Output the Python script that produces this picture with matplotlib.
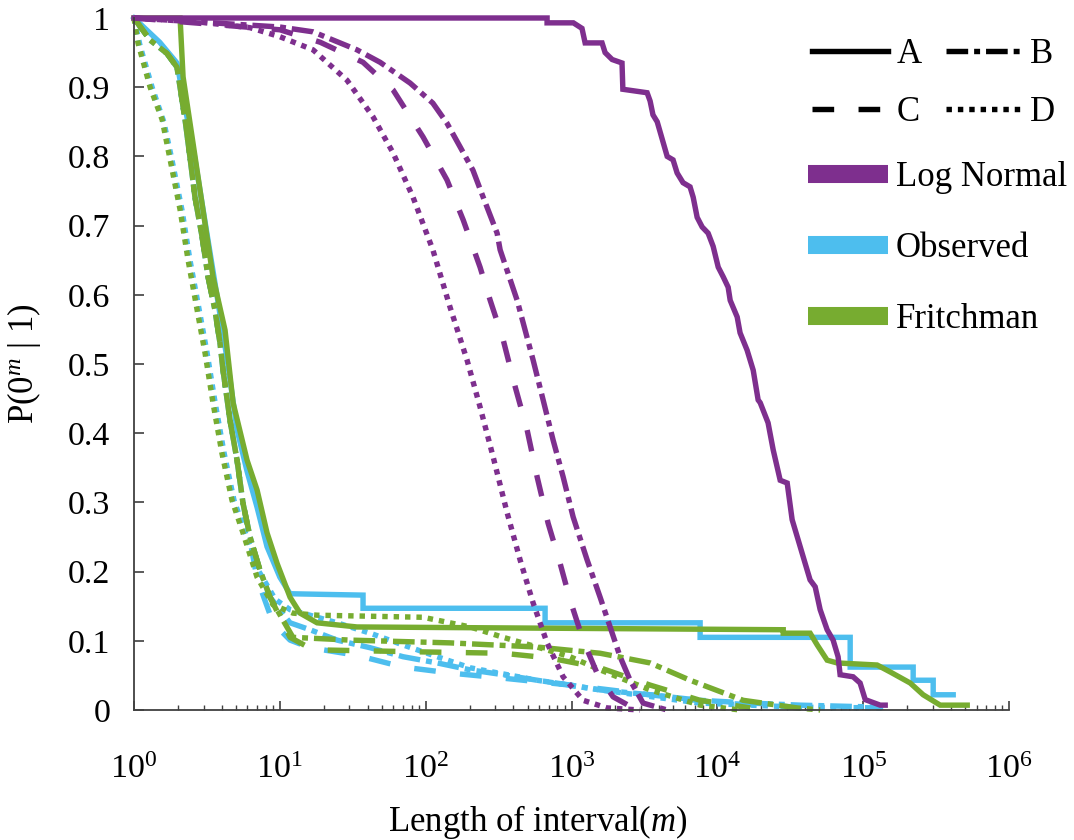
import numpy as np
import matplotlib
matplotlib.use("Agg")
import matplotlib.pyplot as plt
from matplotlib.lines import Line2D
from matplotlib.ticker import LogLocator, FixedLocator, FuncFormatter, NullFormatter, LogFormatterSciNotation

# ---------------- data ----------------
# Log Normal
LN_A_x = [1, 680, 680, 1030, 1180, 1240, 1620, 1700, 1900, 2220, 2250, 3300, 3460, 3620, 3870, 4530, 4970, 5300,
          5820, 6500, 6830, 7270, 7870, 8650, 9360, 10140, 10970, 11860, 12250, 13680, 14320, 16000, 17620, 19050,
          19680, 22280, 24150, 26980, 30130, 32580, 35810, 39990, 43250, 46880, 50700, 56620, 62230, 67300, 69500,
          85310, 95280, 103300, 130900, 141600]
LN_A_y = [1.0, 1.0, 0.993, 0.993, 0.985, 0.964, 0.964, 0.95, 0.94, 0.935, 0.897, 0.892, 0.88, 0.86, 0.85, 0.80, 0.795,
          0.776, 0.762, 0.756, 0.741, 0.712, 0.698, 0.689, 0.67, 0.64, 0.626, 0.611, 0.592, 0.568, 0.545, 0.52, 0.491,
          0.448, 0.444, 0.415, 0.376, 0.332, 0.328, 0.275, 0.246, 0.212, 0.188, 0.178, 0.145, 0.116, 0.101, 0.077,
          0.051, 0.048, 0.039, 0.015, 0.007, 0.007]
LN_B_x = [1, 10, 16.9, 33.8, 48.7, 78.2, 112, 140, 172, 211, 248, 309, 324, 424, 545, 639, 748, 876, 1026, 1279,
          1571, 1840, 2154, 2523, 3098, 4526]
LN_B_y = [1.0, 0.987, 0.980, 0.954, 0.936, 0.906, 0.877, 0.848, 0.814, 0.780, 0.741, 0.689, 0.665, 0.592, 0.506,
          0.448, 0.390, 0.337, 0.279, 0.217, 0.163, 0.120, 0.077, 0.043, 0.010, 0.0]
LN_C_x = [1, 10, 18.9, 37.2, 59.8, 96.0, 140, 181, 236, 277, 340, 411, 496, 581, 691, 835, 978, 1201, 1498, 1929, 2646]
LN_C_y = [1.0, 0.983, 0.965, 0.936, 0.896, 0.828, 0.766, 0.708, 0.640, 0.592, 0.535, 0.467, 0.405, 0.337, 0.270,
          0.212, 0.159, 0.101, 0.053, 0.019, 0.003]
LN_D_x = [1, 2.84, 6.25, 10, 16.9, 28.9, 43.6, 59.8, 81.9, 112, 147, 192, 236, 290, 362, 444, 545, 680, 876, 1201,
          1754, 2954]
LN_D_y = [1.0, 0.994, 0.986, 0.973, 0.954, 0.910, 0.857, 0.805, 0.741, 0.665, 0.582, 0.506, 0.438, 0.366, 0.285,
          0.217, 0.155, 0.097, 0.048, 0.014, 0.003, 0.0]

# Observed
OB_A_x = [1, 1.5, 1.97, 2.2, 2.6, 3.1, 3.7, 4.4, 5.09, 5.96, 6.98, 8.17, 10.0, 11.75, 37.2, 37.2, 659, 659, 7620,
          7620, 81460, 81460, 220200, 220200, 302100, 302100, 414300]
OB_A_y = [1.0, 0.965, 0.935, 0.88, 0.80, 0.70, 0.60, 0.50, 0.405, 0.345, 0.293, 0.236, 0.192, 0.168, 0.166, 0.147,
          0.147, 0.126, 0.126, 0.105, 0.105, 0.062, 0.062, 0.043, 0.043, 0.022, 0.022]
OB_B_x = [1, 1.29, 1.68, 1.97, 2.07, 2.24, 2.42, 2.62, 2.93, 3.22, 3.59, 3.89, 4.08, 4.55, 5.09, 5.59, 6.25, 7.31,
          8.57, 11.75, 16.1, 24.7, 41.6, 70.0, 120, 202, 340, 581, 978, 1571, 3460, 7620, 16790, 36980, 137200]
OB_B_y = [1.0, 0.968, 0.949, 0.929, 0.900, 0.853, 0.799, 0.741, 0.684, 0.626, 0.578, 0.530, 0.491, 0.419, 0.361,
          0.299, 0.250, 0.202, 0.163, 0.126, 0.116, 0.101, 0.090, 0.077, 0.068, 0.058, 0.051, 0.043, 0.036, 0.029,
          0.022, 0.014, 0.010, 0.007, 0.004]
OB_C_x = [1, 1.29, 1.68, 1.97, 2.07, 2.24, 2.42, 2.62, 2.93, 3.22, 3.59, 3.89, 4.08, 4.55, 5.09, 5.59, 6.25, 6.98,
          8.98, 11.75, 16.1, 33.8, 70.0, 154, 340, 978, 3460, 10450, 36980]
OB_C_y = [1.0, 0.968, 0.949, 0.929, 0.900, 0.853, 0.799, 0.741, 0.684, 0.626, 0.578, 0.530, 0.491, 0.419, 0.361,
          0.299, 0.245, 0.190, 0.126, 0.101, 0.090, 0.079, 0.062, 0.053, 0.046, 0.036, 0.022, 0.010, 0.004]
OB_D_x = [1, 1.1, 1.33, 1.6, 1.82, 2.13, 2.42, 2.8, 3.17, 3.6, 4.15, 4.85, 5.8, 7.2, 9.3, 11.75, 24.7, 41.6, 70.0,
          120, 202, 581, 1571, 7620, 36980, 141600]
OB_D_y = [1.0, 0.96, 0.90, 0.85, 0.795, 0.723, 0.65, 0.578, 0.516, 0.444, 0.371, 0.303, 0.256, 0.20, 0.16, 0.145,
          0.126, 0.111, 0.094, 0.077, 0.061, 0.043, 0.029, 0.010, 0.004, 0.003]

# Fritchman
FR_A_x = [1, 2.07, 2.17, 2.54, 2.97, 3.48, 4.21, 4.78, 5.96, 6.98, 8.17, 9.57, 11.75, 13.76, 18.0, 33.8, 28300,
          28300, 43300, 48400, 56600, 66300, 124700, 153200, 210100, 257900, 337500, 516900]
FR_A_y = [1.0, 1.0, 0.915, 0.819, 0.723, 0.626, 0.549, 0.444, 0.361, 0.318, 0.256, 0.212, 0.163, 0.140, 0.126, 0.120,
          0.116, 0.111, 0.111, 0.094, 0.072, 0.068, 0.065, 0.055, 0.039, 0.022, 0.007, 0.007]
FR_B_x = [1, 1.29, 1.68, 1.97, 2.07, 2.24, 2.42, 2.62, 2.93, 3.22, 3.59, 3.89, 4.08, 4.55, 5.09, 5.59, 6.25, 7.31,
          8.57, 10.5, 12.3, 30.3, 147, 581, 1571, 3460, 6510, 15030, 35270, 50730]
FR_B_y = [1.0, 0.968, 0.949, 0.929, 0.900, 0.853, 0.799, 0.741, 0.684, 0.626, 0.578, 0.530, 0.491, 0.419, 0.361,
          0.299, 0.250, 0.202, 0.163, 0.130, 0.105, 0.101, 0.097, 0.091, 0.082, 0.068, 0.043, 0.014, 0.003, 0.0]
FR_C_x = [1, 1.29, 1.68, 1.97, 2.07, 2.24, 2.42, 2.62, 2.93, 3.22, 3.59, 3.89, 4.08, 4.55, 5.09, 5.59, 6.25, 7.31,
          8.57, 11.75, 16.9, 91.5, 340, 714, 1571, 3460, 7620, 16790]
FR_C_y = [1.0, 0.968, 0.949, 0.929, 0.900, 0.853, 0.799, 0.741, 0.684, 0.626, 0.578, 0.530, 0.491, 0.419, 0.361,
          0.299, 0.250, 0.202, 0.163, 0.105, 0.087, 0.084, 0.082, 0.075, 0.061, 0.036, 0.014, 0.003]
FR_D_x = [1, 1.065, 1.29, 1.56, 1.77, 2.07, 2.35, 2.71, 3.07, 3.48, 4.01, 4.70, 5.59, 6.98, 8.98, 12.3, 18.0, 96.0,
          202, 340, 581, 978, 1571, 3460, 7620, 14330]
FR_D_y = [1.0, 0.964, 0.900, 0.853, 0.795, 0.723, 0.650, 0.578, 0.516, 0.444, 0.371, 0.303, 0.256, 0.192, 0.152,
          0.140, 0.137, 0.134, 0.120, 0.105, 0.091, 0.077, 0.058, 0.029, 0.007, 0.0]

x_ticks = [1, 10, 100, 1000, 10000, 100000, 1000000]
y_ticks = [0, 0.1, 0.2, 0.3, 0.4, 0.5, 0.6, 0.7, 0.8, 0.9, 1.0]
style_labels = ["A", "B", "C", "D"]
group_labels = ["Log Normal", "Observed", "Fritchman"]

# ---------------- style ----------------
plt.rcParams["font.family"] = ["Liberation Serif", "DejaVu Serif"]
plt.rcParams["mathtext.fontset"] = "custom"
plt.rcParams["mathtext.rm"] = "Liberation Serif"
plt.rcParams["mathtext.it"] = "Liberation Serif:italic"

C_PURPLE = "#7E2F8E"
C_BLUE = "#4DBEEE"
C_GREEN = "#77AC30"
LW = 3.9
FS = 25
TFS = 24.5
STYLES = {
    "A": dict(linestyle="-"),
    "B": dict(dashes=(4, 1.1, 1.1, 1.1)),
    "C": dict(dashes=(4, 4.5)),
    "D": dict(dashes=(1, 1.1)),
}

fig = plt.figure(figsize=(10.74, 8.4), dpi=100)
ax = fig.add_axes([134 / 1074, 1 - 710 / 840, 875 / 1074, 692 / 840])

series = [
    (C_BLUE, [(OB_A_x, OB_A_y, "A"), (OB_B_x, OB_B_y, "B"), (OB_C_x, OB_C_y, "C"), (OB_D_x, OB_D_y, "D")]),
    (C_GREEN, [(FR_A_x, FR_A_y, "A"), (FR_B_x, FR_B_y, "B"), (FR_C_x, FR_C_y, "C"), (FR_D_x, FR_D_y, "D")]),
    (C_PURPLE, [(LN_A_x, LN_A_y, "A"), (LN_B_x, LN_B_y, "B"), (LN_C_x, LN_C_y, "C"), (LN_D_x, LN_D_y, "D")]),
]
for color, lines in series:
    for xs, ys, st in lines:
        ax.plot(xs, ys, color=color, lw=LW, clip_on=False, solid_joinstyle="miter",
                dash_capstyle="butt", **STYLES[st])

ax.set_xscale("log")
ax.set_xlim(1, 1e6)
ax.set_ylim(0, 1)

ax.xaxis.set_major_locator(FixedLocator(x_ticks))
ax.xaxis.set_major_formatter(LogFormatterSciNotation(base=10))
ax.xaxis.set_minor_locator(LogLocator(base=10, subs=np.arange(2, 10), numticks=100))
ax.xaxis.set_minor_formatter(NullFormatter())
ax.yaxis.set_major_locator(FixedLocator(y_ticks))
ax.yaxis.set_major_formatter(FuncFormatter(lambda v, p: f"{v:g}"))

for s in ["top", "right"]:
    ax.spines[s].set_visible(False)
for s in ["left", "bottom"]:
    ax.spines[s].set_color("#404040")
    ax.spines[s].set_linewidth(1.3)

ax.tick_params(axis="y", which="major", direction="in", length=7.5, width=1.2, color="#404040",
               labelsize=TFS, pad=17)
ax.tick_params(axis="x", which="major", direction="in", length=6.5, width=1.2, color="#404040",
               labelsize=TFS, pad=32)
ax.tick_params(axis="x", which="minor", direction="in", length=3.5, width=1.0, color="#404040")

ax.set_xlabel("Length of interval($m$)", fontsize=FS)
ax.set_ylabel("P(0$^{m}$ | 1)", fontsize=FS)
ax.xaxis.set_label_coords(0.461, -0.135)
ax.yaxis.set_label_coords(-0.104, 0.5)

# ---------------- legends ----------------
style_handles = {k: Line2D([], [], color="black", lw=LW, dash_capstyle="butt", **STYLES[k]) for k in style_labels}
order = ["A", "C", "B", "D"]
leg1 = fig.legend([style_handles[k] for k in order], order, ncol=2, loc="upper left",
                  bbox_to_anchor=(812 / 1074, 1 - 38 / 840), frameon=False, fontsize=FS,
                  handlelength=2.2, handletextpad=0.23, columnspacing=0.7, labelspacing=0.71,
                  borderpad=0, borderaxespad=0)
group_handles = [Line2D([], [], color=c, lw=13, solid_capstyle="butt") for c in (C_PURPLE, C_BLUE, C_GREEN)]
leg2 = fig.legend(group_handles, group_labels, loc="upper left",
                  bbox_to_anchor=(808 / 1074, 1 - 161 / 840), frameon=False, fontsize=FS,
                  handlelength=2.3, handletextpad=0.23, labelspacing=1.1,
                  borderpad=0, borderaxespad=0)

fig.savefig("out.png", dpi=100)
